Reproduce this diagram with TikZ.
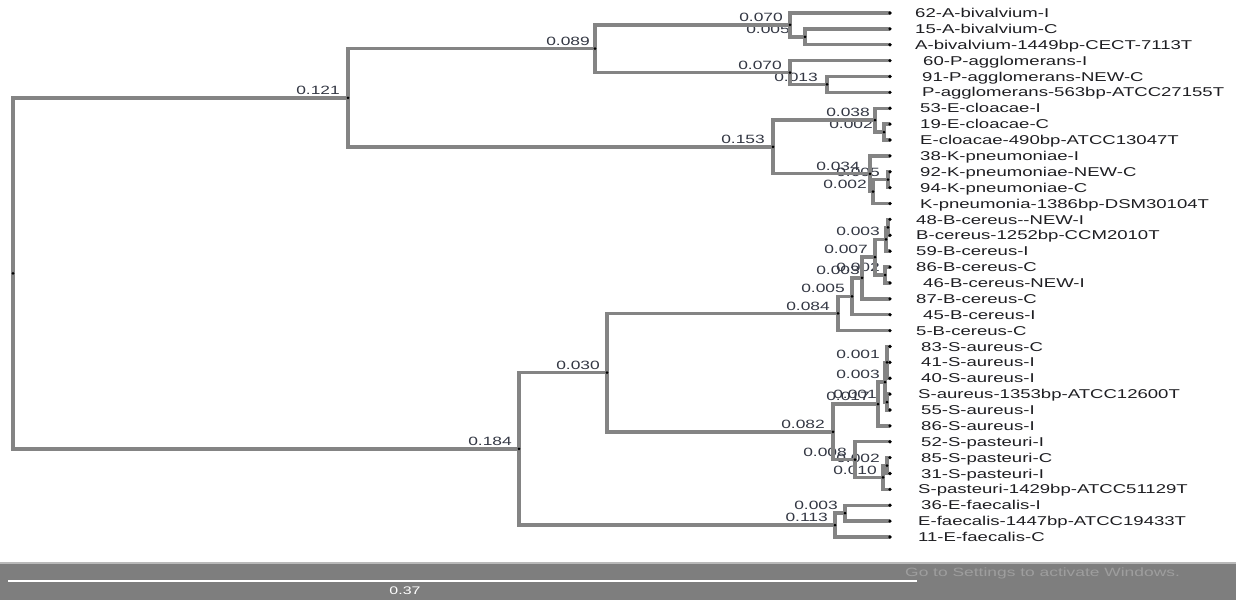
\documentclass[tikz,border=0pt]{standalone}
\usepackage{fontspec}
\newfontfamily\lfont[FakeStretch=1.45]{Liberation Sans}
\usetikzlibrary{calc}
\definecolor{brgray}{RGB}{132,132,132}
\definecolor{bandgray}{RGB}{126,126,126}
\definecolor{bandedge}{RGB}{185,185,185}
\definecolor{leaftxt}{RGB}{30,30,34}
\definecolor{brtxt}{RGB}{52,56,68}
\definecolor{wintxt}{RGB}{158,158,158}
\tikzset{
  branch/.style={draw=brgray, line width=3.4pt, line join=miter},
  leaflab/.style={font=\lfont\fontsize{12.8}{14}\selectfont, text=leaftxt, inner sep=0pt, anchor=base west},
  blab/.style={font=\lfont\fontsize{12}{14}\selectfont, text=brtxt, inner sep=0pt, anchor=base east},
}
\newcommand\elbow[3]{\draw[branch] (#2) -| (#1) |- (#3);}
\begin{document}
\begin{tikzpicture}[x=1pt,y=-1pt]
\useasboundingbox (0,0) rectangle (1236,600);
\fill[white] (0,0) rectangle (1236,600);
% leaves
\foreach \i in {1,...,34}{
  \pgfmathsetmacro\yy{13+15.879*(\i-1)}
  \coordinate (l\i) at (890,\yy);
}
% internal nodes
\coordinate (ab1) at (805,36.82);
\coordinate (ab) at (790,24.91);
\coordinate (pa1) at (827,84.46);
\coordinate (pa) at (790,72.55);
\coordinate (n089) at (595,48.73);
\coordinate (ec1) at (884,132.09);
\coordinate (ec) at (875,120.18);
\coordinate (k2) at (888,179.73);
\coordinate (k1) at (873,191.64);
\coordinate (k0) at (870,173.78);
\coordinate (n153) at (773,146.98);
\coordinate (t1) at (348,97.86);
\coordinate (bc4a) at (888,227.37);
\coordinate (bc4) at (886,239.28);
\coordinate (bc5) at (885,275.00);
\coordinate (bc3) at (875,257.14);
\coordinate (bc2) at (862,277.98);
\coordinate (bc1) at (852,296.34);
\coordinate (bc) at (838,313.46);
\coordinate (sa3) at (887,362.34);
\coordinate (sa4) at (887,402.04);
\coordinate (sa2) at (885,382.19);
\coordinate (sa1) at (878,404.03);
\coordinate (sp2) at (887,465.55);
\coordinate (sp1) at (883,477.46);
\coordinate (sp) at (855,459.60);
\coordinate (sa) at (833,431.81);
\coordinate (bb2) at (607,372.64);
\coordinate (ef1) at (845,513.19);
\coordinate (ef) at (835,525.10);
\coordinate (b1) at (519,448.87);
\coordinate (root) at (13,273.37);
% branch labels
\node[blab] (b121) at (340,94.4) {0.121};
\node[blab] (b089) at (590,45.2) {0.089};
\node[blab] (b070a) at (783,21.4) {0.070};
\node[blab] (b005a) at (790,33.3) {0.005};
\node[blab] (b070b) at (782,69.0) {0.070};
\node[blab] (b013) at (818,81.0) {0.013};
\node[blab] (b153) at (765,143.5) {0.153};
\node[blab] (b038) at (870,116.7) {0.038};
\node[blab] (b002a) at (873,128.6) {0.002};
\node[blab] (b034) at (860,170.3) {0.034};
\node[blab] (b005b) at (880,176.2) {0.005};
\node[blab] (b002b) at (867,188.1) {0.002};
\node[blab] (b184) at (512,445.4) {0.184};
\node[blab] (b030) at (600,369.1) {0.030};
\node[blab] (b084) at (830,310.0) {0.084};
\node[blab] (b005c) at (845,292.8) {0.005};
\node[blab] (b003c) at (860,274.5) {0.003};
\node[blab] (b002c) at (880,271.5) {0.002};
\node[blab] (b007) at (868,253.6) {0.007};
\node[blab] (b003d) at (880,235.8) {0.003};
\node[blab] (b082) at (825,428.3) {0.082};
\node[blab] (b017) at (870,400.5) {0.017};
\node[blab] (b003e) at (880,378.7) {0.003};
\node[blab] (b001a) at (880,358.8) {0.001};
\node[blab] (b001b) at (877,398.5) {0.001};
\node[blab] (b008) at (847,456.1) {0.008};
\node[blab] (b010) at (877,474.0) {0.010};
\node[blab] (b002d) at (880,462.0) {0.002};
\node[blab] (b003f) at (838,509.7) {0.003};
\node[blab] (b113) at (828,521.6) {0.113};
% branches
\elbow{ab1}{l2}{l3}
\elbow{ab}{l1}{ab1}
\elbow{pa1}{l5}{l6}
\elbow{pa}{l4}{pa1}
\elbow{n089}{ab}{pa}
\elbow{ec1}{l8}{l9}
\elbow{ec}{l7}{ec1}
\elbow{k2}{l11}{l12}
\elbow{k1}{k2}{l13}
\elbow{k0}{l10}{k1}
\elbow{n153}{ec}{k0}
\elbow{t1}{n089}{n153}
\elbow{bc4a}{l14}{l15}
\elbow{bc4}{bc4a}{l16}
\elbow{bc5}{l17}{l18}
\elbow{bc3}{bc4}{bc5}
\elbow{bc2}{bc3}{l19}
\elbow{bc1}{bc2}{l20}
\elbow{bc}{bc1}{l21}
\elbow{sa3}{l22}{l24}
\draw[branch] (sa3) -- (l23);
\elbow{sa4}{l25}{l26}
\elbow{sa2}{sa3}{sa4}
\elbow{sa1}{sa2}{l27}
\elbow{sp2}{l29}{l30}
\elbow{sp1}{sp2}{l31}
\elbow{sp}{l28}{sp1}
\elbow{sa}{sa1}{sp}
\elbow{bb2}{bc}{sa}
\elbow{ef1}{l32}{l33}
\elbow{ef}{ef1}{l34}
\elbow{b1}{bb2}{ef}
\elbow{root}{t1}{b1}
% dots
\foreach \n in {ab1,ab,pa1,pa,n089,ec1,ec,k2,k1,k0,n153,t1,bc4a,bc4,bc5,bc3,bc2,bc1,bc,sa3,sa4,sa2,sa1,sp2,sp1,sp,sa,bb2,ef1,ef,b1,root}
  \fill[black] (\n) circle (1.5);
\foreach \i in {1,...,34}
  \fill[black] (l\i) circle (1.8);
% leaf labels
\foreach \i/\xx/\txt in {
  1/915/62-A-bivalvium-I,
  2/915/15-A-bivalvium-C,
  3/915/A-bivalvium-1449bp-CECT-7113T,
  4/923/60-P-agglomerans-I,
  5/922/91-P-agglomerans-NEW-C,
  6/922/P-agglomerans-563bp-ATCC27155T,
  7/920/53-E-cloacae-I,
  8/920/19-E-cloacae-C,
  9/920/E-cloacae-490bp-ATCC13047T,
  10/920/38-K-pneumoniae-I,
  11/920/92-K-pneumoniae-NEW-C,
  12/920/94-K-pneumoniae-C,
  13/920/K-pneumonia-1386bp-DSM30104T,
  14/916/48-B-cereus-{}-NEW-I,
  15/916/B-cereus-1252bp-CCM2010T,
  16/916/59-B-cereus-I,
  17/916/86-B-cereus-C,
  18/923/46-B-cereus-NEW-I,
  19/916/87-B-cereus-C,
  20/923/45-B-cereus-I,
  21/916/5-B-cereus-C,
  22/921/83-S-aureus-C,
  23/921/41-S-aureus-I,
  24/921/40-S-aureus-I,
  25/918/S-aureus-1353bp-ATCC12600T,
  26/921/55-S-aureus-I,
  27/921/86-S-aureus-I,
  28/921/52-S-pasteuri-I,
  29/921/85-S-pasteuri-C,
  30/921/31-S-pasteuri-I,
  31/918/S-pasteuri-1429bp-ATCC51129T,
  32/921/36-E-faecalis-I,
  33/918/E-faecalis-1447bp-ATCC19433T,
  34/918/11-E-faecalis-C}{
  \pgfmathsetmacro\ty{13+15.879*(\i-1)+4.6}
  \node[leaflab] (t\i) at (\xx,\ty) {\txt};
}
% bottom band
\fill[bandgray] (0,562) rectangle (1236,600);
\draw[bandedge, line width=1.6pt] (0,562.8) -- (1236,562.8);
\coordinate (sbl) at (8,581);
\coordinate (sbr) at (917,581);
\draw[white, line width=1.6pt] (sbl) -- (sbr);
\node[font=\lfont\fontsize{11}{13}\selectfont, text=white, inner sep=0pt] (sblab) at (405,591) {0.37};
\node[font=\lfont\fontsize{12}{14}\selectfont, text=wintxt, inner sep=0pt, anchor=west] (win) at (905,573) {Go to Settings to activate Windows.};
\end{tikzpicture}
\end{document}
